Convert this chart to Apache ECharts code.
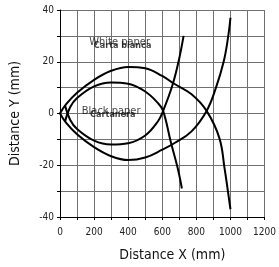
<!DOCTYPE html>
<html>
<head>
<meta charset="utf-8">
<script src="https://cdn.jsdelivr.net/npm/echarts@6/dist/echarts.min.js"></script>
<style>
    html, body { margin: 0; padding: 0; background: #fff; }
    #chart-panel { width: 279px; height: 267px; }
</style>
</head>
<body>
<div id="chart-panel"></div>
<script>
// 检测区域曲线 [x mm, y mm]
var whiteUpper = [[0, 0], [35, 3.5], [100, 8], [200, 13], [300, 16.5], [400, 18], [500, 17.5], [600, 14.5], [670, 11.5], [770, 7.5], [860, 1], [935, -9.5], [965, -21], [985, -30], [1000, -37]];
var whiteLower = [[0, 0], [35, -3.5], [100, -8], [200, -13], [300, -16.5], [400, -18], [500, -17], [600, -14], [670, -11.5], [770, -7], [860, 1], [915, 10], [960, 20], [985, 29], [1000, 37]];
var blackUpper = [[30, -3], [60, 2.5], [100, 6], [200, 10.5], [300, 12], [400, 11.5], [500, 8.5], [575, 4], [605, 1], [650, -11], [690, -21], [715, -29]];
var blackLower = [[30, 3], [60, -2.5], [100, -6], [200, -10.5], [300, -12], [400, -11.5], [500, -8.5], [575, -3], [605, 1], [660, 11], [697, 20.5], [725, 30]];

// 曲线说明文字
var mainNotes = [{ name: 'White paper', value: [350, 27.5] }, { name: 'Black paper', value: [300, 1] }];
var subNotes = [{ name: 'Carta bianca', value: [367, 26.2] }, { name: 'Cartanera', value: [310, -0.3] }];

var narrowFont = "'Liberation Sans Narrow', 'DejaVu Sans Condensed', sans-serif";

function curve(data) {
    return {
        type: 'line',
        smooth: 0.4,
        symbol: 'none',
        lineStyle: { color: '#000', width: 2 },
        data: data
    };
}

function notes(data, size, weight) {
    return {
        type: 'scatter',
        symbolSize: 0,
        silent: true,
        label: {
            show: true,
            position: 'inside',
            formatter: '{b}',
            color: '#111',
            fontFamily: narrowFont,
            fontSize: size,
            fontWeight: weight
        },
        data: data
    };
}

var chartOption = {
    backgroundColor: '#fff',
    animation: false,
    grid: {
        left: 57,
        right: 11,
        top: 10,
        bottom: 48
    },
    xAxis: {
        type: 'value',
        min: 0,
        max: 1200,
        interval: 100,
        name: 'Distance X (mm)',
        nameLocation: 'middle',
        nameGap: 31,
        nameTextStyle: {
            color: '#111',
            fontFamily: narrowFont,
            fontSize: 14,
            padding: [0, 0, 0, 20]
        },
        axisLine: { onZero: false, lineStyle: { color: '#000', width: 1 } },
        axisTick: { show: true, length: 3, lineStyle: { color: '#000' } },
        axisLabel: {
            color: '#222',
            fontFamily: narrowFont,
            fontSize: 10,
            margin: 10,
            formatter: function (value) {
                return value % 200 === 0 ? value : '';
            }
        },
        splitLine: { show: true, lineStyle: { color: '#707070', width: 1 } }
    },
    yAxis: {
        type: 'value',
        min: -40,
        max: 40,
        interval: 10,
        name: 'Distance Y (mm)',
        nameLocation: 'middle',
        nameGap: 38,
        nameTextStyle: {
            color: '#111',
            fontFamily: narrowFont,
            fontSize: 14
        },
        axisLine: { show: true, onZero: false, lineStyle: { color: '#000', width: 1 } },
        axisTick: { show: true, length: 3, lineStyle: { color: '#000' } },
        axisLabel: {
            color: '#222',
            fontFamily: narrowFont,
            fontSize: 10,
            margin: 6,
            formatter: function (value) {
                return value % 20 === 0 ? value : '';
            }
        },
        splitLine: { show: true, lineStyle: { color: '#707070', width: 1 } }
    },
    series: [
        curve(whiteUpper),
        curve(whiteLower),
        curve(blackUpper),
        curve(blackLower),
        notes(mainNotes, 11, 'normal'),
        notes(subNotes, 9, 'bold')
    ]
};

var myChart = echarts.init(document.getElementById('chart-panel'), null, { renderer: 'canvas' });
myChart.setOption(chartOption);
</script>
</body>
</html>
